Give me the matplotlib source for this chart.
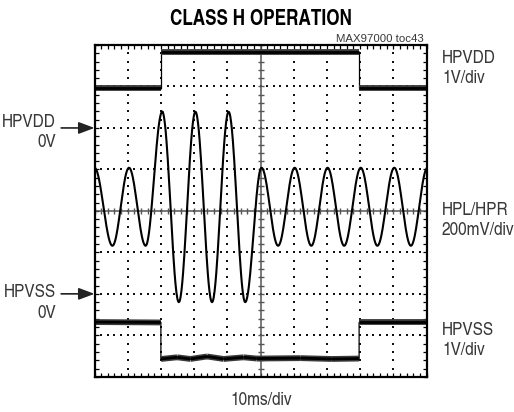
import numpy as np
import matplotlib
matplotlib.use("Agg")
import matplotlib.pyplot as plt

# 스코프 화면 값 (x: div, 10ms/div / y: div)
# HPL/HPR 사인파 - 극값 위치와 크기
ext_t = [0.0, 0.54, 1.04, 1.54, 2.04, 2.54, 3.04, 3.54, 4.04, 4.54, 5.03,
         5.53, 6.03, 6.53, 7.02, 7.52, 8.02, 8.52, 9.03, 9.53, 10.03]
ext_v = [1.04, -0.84, 1.04, -0.84, 2.39, -2.20, 2.39, -2.20, 2.39, -2.20, 1.04,
         -0.84, 1.04, -0.84, 1.04, -0.84, 1.04, -0.84, 1.04, -0.84, 1.04]

# HPVDD (1V/div)
vdd_t = [0.0, 2.0, 2.0, 7.98, 7.98, 10.0]
vdd_v = [2.96, 2.96, 3.84, 3.84, 2.97, 2.97]

# HPVSS (1V/div)
vss_t = [0.0, 2.0, 2.0, 2.49, 2.89, 3.39, 3.89, 4.49, 4.89, 6.2, 7.15, 7.97, 7.97, 10.0]
vss_v = [-2.68, -2.69, -3.57, -3.53, -3.57, -3.51, -3.57, -3.53, -3.56, -3.55, -3.57, -3.56, -2.69, -2.69]

title = "CLASS H OPERATION"
right_labels = [("HPVDD", "1V/div", 63, 83), ("HPL/HPR", "200mV/div", 215, 235),
                ("HPVSS", "1V/div", 335, 355)]
left_labels = [("HPVDD", "0V", 127, 147, 2.0), ("HPVSS", "0V", 297, 318, -2.0)]

W, H = 514, 412
cond = ["TeX Gyre Heros Cn", "DejaVu Sans"]
grey = "#383838"

fig = plt.figure(figsize=(W / 100, H / 100), dpi=100)
ax = fig.add_axes([94.5 / W, 1 - 376.8 / H, (426.5 - 94.5) / W, (376.8 - 45) / H])
ax.set_xlim(0, 10)
ax.set_ylim(-4, 4)

# 점선 그리드
fine_x = np.arange(0, 10.01, 0.2)
fine_y = np.arange(-4, 4.01, 0.2)
for gx in range(1, 10):
    if gx != 5:
        ax.plot(np.full_like(fine_y, gx), fine_y, ls="none", marker="s", ms=1.6, color="#111111", mew=0)
for gy in range(-3, 4):
    if gy != 0:
        ax.plot(fine_x, np.full_like(fine_x, gy), ls="none", marker="s", ms=1.6, color="#111111", mew=0)

# 중앙 십자선
ax.axvline(5, color="#555555", lw=1.1)
ax.axhline(0, color="#555555", lw=1.1)
ax.plot(np.full_like(fine_y, 5), fine_y, ls="none", marker="_", ms=5, mew=1.0, color="#555555")
ax.plot(fine_x, np.zeros_like(fine_x), ls="none", marker="|", ms=5, mew=1.0, color="#555555")

# 사인파 (극값 사이를 반주기 코사인으로 연결)
tt, vv = [], []
for i in range(len(ext_t) - 1):
    s = np.linspace(0, 1, 40)
    t0, t1, v0, v1 = ext_t[i], ext_t[i + 1], ext_v[i], ext_v[i + 1]
    tt.append(t0 + s * (t1 - t0))
    vv.append((v0 + v1) / 2 + (v0 - v1) / 2 * np.cos(np.pi * s))
ax.plot(np.concatenate(tt), np.concatenate(vv), color="black", lw=1.5)


def supply(t, v):
    ax.plot(t, v, color="black", lw=0.9)
    for i in range(len(t) - 1):
        if t[i + 1] != t[i]:
            ax.plot(t[i:i + 2], v[i:i + 2], color="#3a3a3a", lw=4.2, solid_capstyle="butt")
            ax.plot(t[i:i + 2], v[i:i + 2], color="black", lw=2.0, solid_capstyle="butt")


supply(vdd_t, vdd_v)
supply(vss_t, vss_v)

# 테두리와 눈금
for sp in ax.spines.values():
    sp.set_linewidth(1.6)
    sp.set_color("black")
ax.set_xticks(np.arange(0, 10.01, 1))
ax.set_yticks(np.arange(-4, 4.01, 1))
ax.set_xticks(fine_x, minor=True)
ax.set_yticks(fine_y, minor=True)
ax.tick_params(which="both", direction="in", top=True, right=True, length=3, width=0.9,
               labelbottom=False, labelleft=False)


def fx(x):
    return x / W


def fy(y):
    return 1 - y / H


fig.text(fx(260.5), fy(25), title, family=cond, weight="bold", fontsize=15,
         ha="center", va="baseline", color="black")
fig.text(fx(424), fy(42.5), "MAX97000 toc43", family=["Liberation Sans", "DejaVu Sans"],
         fontsize=8.2, ha="right", va="baseline", color=grey)
fig.text(fx(261), fy(405), "10ms/div", family=cond, fontsize=13.5,
         ha="center", va="baseline", color=grey)

for a, b, ya, yb in right_labels:
    fig.text(fx(442), fy(ya), a, family=cond, fontsize=13.5, ha="left", va="baseline", color=grey)
    fig.text(fx(442), fy(yb), b, family=cond, fontsize=13.5, ha="left", va="baseline", color=grey)

for a, b, ya, yb, lvl in left_labels:
    fig.text(fx(56), fy(ya), a, family=cond, fontsize=13.5, ha="right", va="baseline", color=grey)
    fig.text(fx(56), fy(yb), b, family=cond, fontsize=13.5, ha="right", va="baseline", color=grey)
    ax.annotate("", xy=(0, lvl), xytext=(-24, 0), textcoords="offset points",
                annotation_clip=False,
                arrowprops=dict(arrowstyle="-|>,head_length=0.8,head_width=0.3",
                                mutation_scale=12, color="#222222", lw=1.2,
                                shrinkA=0, shrinkB=0))

fig.savefig("out.png", dpi=100)
